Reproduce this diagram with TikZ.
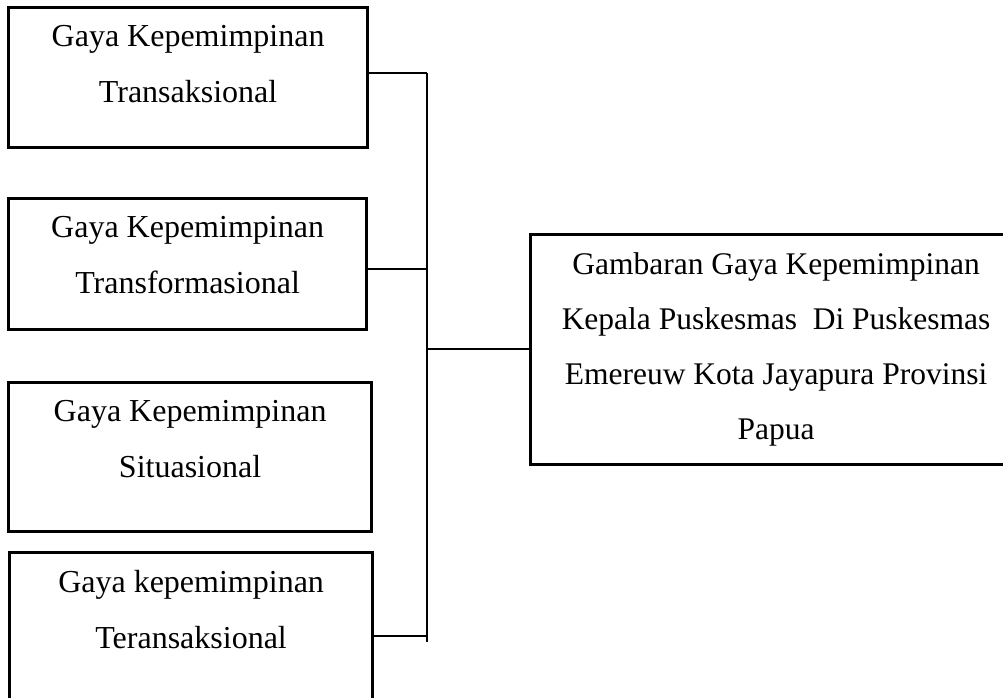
\documentclass[tikz,border=0pt]{standalone}
\usepackage{fontspec}
\setmainfont{Liberation Serif}
\usetikzlibrary{calc}
\begin{document}
\begin{tikzpicture}[x=1pt,y=-1pt,
  box/.style={draw, line width=3.2pt, anchor=north west, inner sep=0pt},
  lbl/.style={align=center, anchor=north, inner sep=0pt, font=\fontsize{32}{56}\selectfont},
  rlbl/.style={align=center, anchor=north, inner sep=0pt, font=\fontsize{31.5}{55}\selectfont},
  conn/.style={line width=1.8pt}]
\useasboundingbox (0,0) rectangle (1003,698);
\node[box, minimum width=359pt, minimum height=140pt] (b1) at (7,6) {};
\node[box, minimum width=358pt, minimum height=131pt] (b2) at (7,197) {};
\node[box, minimum width=363pt, minimum height=149pt] (b3) at (7,381) {};
\node[box, minimum width=363pt, minimum height=165pt] (b4) at (8,551) {};
\node[box, minimum width=491pt, minimum height=230pt] (r) at (529,233) {};
\node[lbl] (t1) at ($(b1.north)+(0,19)$) {Gaya Kepemimpinan\\Transaksional};
\node[lbl] (t2) at ($(b2.north)+(0,19)$) {Gaya Kepemimpinan\\Transformasional};
\node[lbl] (t3) at ($(b3.north)+(0,19)$) {Gaya Kepemimpinan\\Situasional};
\node[lbl] (t4) at ($(b4.north)+(0,19)$) {Gaya kepemimpinan\\Teransaksional};
\node[rlbl] (tr) at ($(r.north)+(0,19)$) {Gambaran Gaya Kepemimpinan\\Kepala Puskesmas\ \ Di Puskesmas\\Emereuw Kota Jayapura Provinsi\\Papua};
\coordinate (top) at (427,73);
\coordinate (bot) at (427,642);
\coordinate (j2) at (427,269);
\coordinate (j4) at (427,636);
\coordinate (jr) at (427,349);
\draw[conn] (b1.east |- top) -- (top);
\draw[conn] (b2.east |- j2) -- (j2);
\draw[conn] (b4.east |- j4) -- (j4);
\draw[conn] (top) -- (bot);
\draw[conn] (jr) -- (r.west |- jr);
\end{tikzpicture}
\end{document}
